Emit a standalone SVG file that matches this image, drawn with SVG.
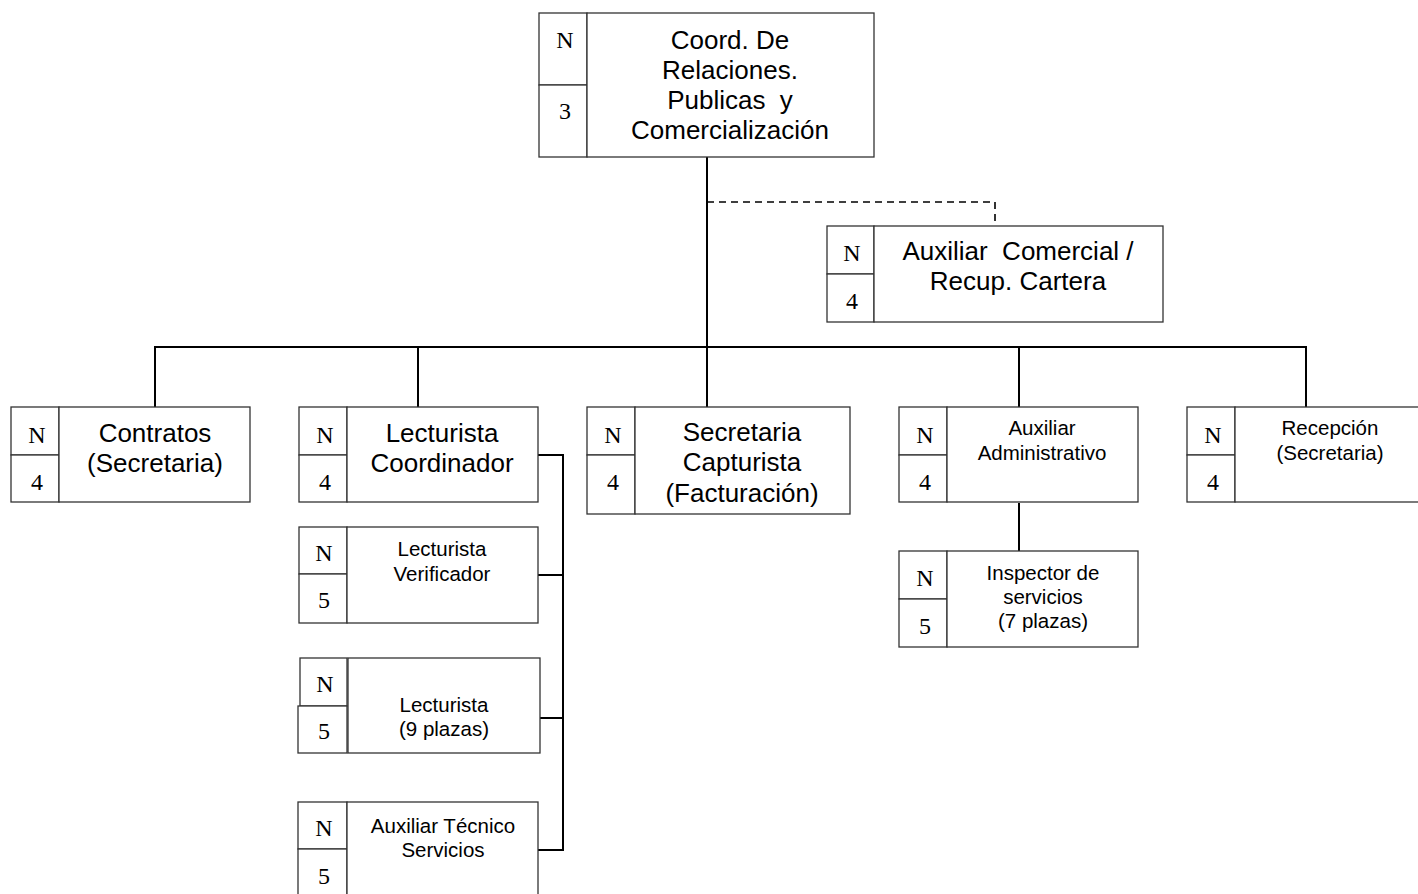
<svg xmlns="http://www.w3.org/2000/svg" width="1418" height="894" viewBox="0 0 1418 894">
<style>
.b{fill:#fff;stroke:#333;stroke-width:1.3}
.c{fill:none;stroke:#000;stroke-width:2}
.d{fill:none;stroke:#000;stroke-width:1.6;stroke-dasharray:7,5}
.n{font-family:"Liberation Serif","Times New Roman",serif;font-size:24px;fill:#000;text-anchor:middle}
.t{font-family:"Liberation Sans",Arial,sans-serif;font-size:26px;fill:#000;text-anchor:middle}
.s{font-family:"Liberation Sans",Arial,sans-serif;font-size:20.5px;fill:#000;text-anchor:middle}
</style>
<rect width="1418" height="894" fill="#fff"/>
<g id="connectors">
<path class="c" d="M707 157V407"/>
<path class="c" d="M155 407V347H1306V407"/>
<path class="c" d="M418 347V407"/>
<path class="c" d="M1019 347V407"/>
<path class="d" d="M707 202H995V226"/>
<path class="c" d="M1019 503V551"/>
<path class="c" d="M538 455H563V850H538"/>
<path class="c" d="M538 575H563"/>
<path class="c" d="M540 718H563"/>
</g>
<g id="n-coord">
<rect class="b" x="539" y="13" width="48" height="72"/>
<rect class="b" x="539" y="85" width="48" height="72"/>
<rect class="b" x="587" y="13" width="287" height="144"/>
<text class="n" x="565" y="48">N</text>
<text class="n" x="565" y="119">3</text>
<text class="t" x="730" y="49">Coord. De</text>
<text class="t" x="730" y="79">Relaciones.</text>
<text class="t" x="730" y="109" xml:space="preserve">Publicas  y</text>
<text class="t" x="730" y="139">Comercialización</text>
</g>
<g id="n-auxcom">
<rect class="b" x="827" y="226" width="47" height="48"/>
<rect class="b" x="827" y="274" width="47" height="48"/>
<rect class="b" x="874" y="226" width="289" height="96"/>
<text class="n" x="852" y="261">N</text>
<text class="n" x="852" y="309">4</text>
<text class="t" x="1018" y="260" xml:space="preserve">Auxiliar  Comercial /</text>
<text class="t" x="1018" y="290">Recup. Cartera</text>
</g>
<g id="n-contratos">
<rect class="b" x="11" y="407" width="48" height="48"/>
<rect class="b" x="11" y="455" width="48" height="47"/>
<rect class="b" x="59" y="407" width="191" height="95"/>
<text class="n" x="37" y="443">N</text>
<text class="n" x="37" y="490">4</text>
<text class="t" x="155" y="442">Contratos</text>
<text class="t" x="155" y="472">(Secretaria)</text>
</g>
<g id="n-lectcoord">
<rect class="b" x="299" y="407" width="48" height="48"/>
<rect class="b" x="299" y="455" width="48" height="47"/>
<rect class="b" x="347" y="407" width="191" height="95"/>
<text class="n" x="325" y="443">N</text>
<text class="n" x="325" y="490">4</text>
<text class="t" x="442" y="442">Lecturista</text>
<text class="t" x="442" y="472">Coordinador</text>
</g>
<g id="n-secretaria">
<rect class="b" x="587" y="407" width="48" height="48"/>
<rect class="b" x="587" y="455" width="48" height="59"/>
<rect class="b" x="635" y="407" width="215" height="107"/>
<text class="n" x="613" y="443">N</text>
<text class="n" x="613" y="490">4</text>
<text class="t" x="742" y="441">Secretaria</text>
<text class="t" x="742" y="471">Capturista</text>
<text class="t" x="742" y="502">(Facturación)</text>
</g>
<g id="n-auxadm">
<rect class="b" x="899" y="407" width="48" height="48"/>
<rect class="b" x="899" y="455" width="48" height="47"/>
<rect class="b" x="947" y="407" width="191" height="95"/>
<text class="n" x="925" y="443">N</text>
<text class="n" x="925" y="490">4</text>
<text class="s" x="1042" y="435">Auxiliar</text>
<text class="s" x="1042" y="460">Administrativo</text>
</g>
<g id="n-recepcion">
<rect class="b" x="1187" y="407" width="48" height="48"/>
<rect class="b" x="1187" y="455" width="48" height="47"/>
<rect class="b" x="1235" y="407" width="190" height="95"/>
<text class="n" x="1213" y="443">N</text>
<text class="n" x="1213" y="490">4</text>
<text class="s" x="1330" y="435">Recepción</text>
<text class="s" x="1330" y="460">(Secretaria)</text>
</g>
<g id="n-lectverif">
<rect class="b" x="299" y="527" width="48" height="47"/>
<rect class="b" x="299" y="574" width="48" height="49"/>
<rect class="b" x="347" y="527" width="191" height="96"/>
<text class="n" x="324" y="561">N</text>
<text class="n" x="324" y="608">5</text>
<text class="s" x="442" y="556">Lecturista</text>
<text class="s" x="442" y="581">Verificador</text>
</g>
<g id="n-lect9">
<rect class="b" x="300" y="658" width="47" height="48"/>
<rect class="b" x="298" y="706" width="49" height="47"/>
<rect class="b" x="348" y="658" width="192" height="95"/>
<text class="n" x="325" y="692">N</text>
<text class="n" x="324" y="739">5</text>
<text class="s" x="444" y="712">Lecturista</text>
<text class="s" x="444" y="736">(9 plazas)</text>
</g>
<g id="n-auxtec">
<rect class="b" x="298" y="802" width="49" height="47"/>
<rect class="b" x="298" y="849" width="49" height="50"/>
<rect class="b" x="347" y="802" width="191" height="97"/>
<text class="n" x="324" y="836">N</text>
<text class="n" x="324" y="884">5</text>
<text class="s" x="443" y="833">Auxiliar Técnico</text>
<text class="s" x="443" y="857">Servicios</text>
</g>
<g id="n-inspector">
<rect class="b" x="899" y="551" width="48" height="48"/>
<rect class="b" x="899" y="599" width="48" height="48"/>
<rect class="b" x="947" y="551" width="191" height="96"/>
<text class="n" x="925" y="586">N</text>
<text class="n" x="925" y="634">5</text>
<text class="s" x="1043" y="580">Inspector de</text>
<text class="s" x="1043" y="604">servicios</text>
<text class="s" x="1043" y="628">(7 plazas)</text>
</g>
</svg>
